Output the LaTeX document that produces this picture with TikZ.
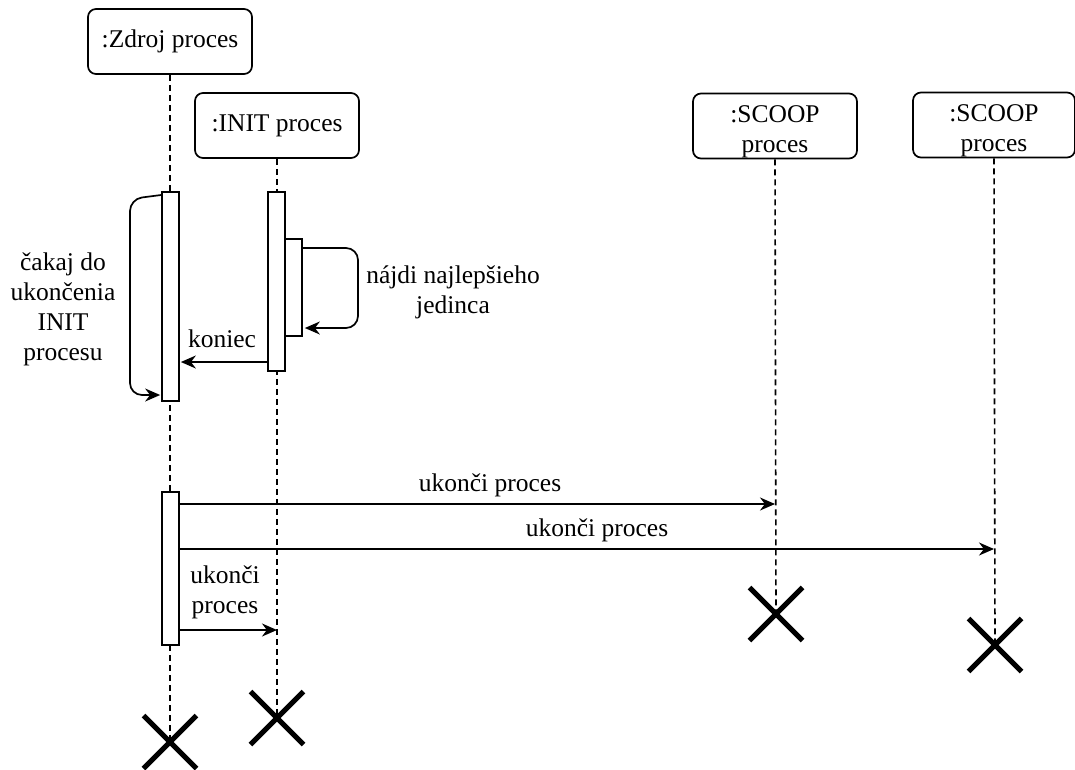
\documentclass[tikz,border=0pt]{standalone}
\usepackage{fontspec}
\setmainfont{Liberation Serif}
\usetikzlibrary{arrows.meta,shapes.misc}

\tikzset{
  head/.style={draw, rounded corners=8pt, line width=1.7pt, minimum width=164pt, minimum height=65pt, align=center, inner sep=0pt},
  act/.style={draw, fill=white, line width=1.7pt, minimum width=17pt, inner sep=0pt},
  life/.style={line width=1.6pt, dash pattern=on 6pt off 4pt},
  msg/.style={line width=1.7pt, -{Stealth[length=15pt,width=13pt]}},
  kill/.style={draw, cross out, line width=5pt, minimum size=48pt, inner sep=0pt},
  lbl/.style={align=center, inner sep=0pt}
}

\begin{document}
\begin{tikzpicture}[x=1pt, y=-1pt, font=\fontsize{25.5}{30}\selectfont]
		\useasboundingbox (0,0) rectangle (1075,769);
		% hlavicky
		\node[head] (zdroj) at (170,41.5) {:Zdroj proces};
		\node[head] (init) at (277,125.5) {:INIT proces};
		\node[head] (scoopa) at (775,126) {};
		\node[lbl] (scoopatext) at ([yshift=-6pt]scoopa.center) {:SCOOP\\proces};
		\node[head, minimum width=162pt] (scoopb) at (994,125) {};
		\node[lbl] (scoopbtext) at ([yshift=-6pt]scoopb.center) {:SCOOP\\proces};
		% konce
		\node[kill] (zdrojx) at (170,742) {};
		\node[kill] (initx) at (277,718) {};
		\node[kill] (scoopax) at (776,614) {};
		\node[kill] (scoopbx) at (995,645) {};
		% ciary zivota
		\draw[life] (zdroj.south) -- (zdrojx.center);
		\draw[life] (init.south) -- (initx.center);
		\draw[life] (scoopa.south) -- (scoopax.center);
		\draw[life] (scoopb.south) -- (scoopbx.center);
		% aktivacie
		\node[act, minimum height=209pt] (zdrojA) at (170.5,296.5) {};
		\node[act, minimum height=179pt] (initA) at (276.5,281.5) {};
		\node[act, minimum height=97pt] (initB) at (293.5,287.5) {};
		\node[act, minimum height=153pt] (zdrojB) at (170.5,568.5) {};
		% spravy
		\draw[msg, rounded corners=12pt] (zdrojA.west |- 0,195) -- (130,199) -- (130,395) -- ([xshift=-1pt]zdrojA.west |- 0,395);
		\node[lbl] (cakaj) at (63,309) {čakaj do\\ukončenia\\INIT\\procesu};
		\draw[msg, rounded corners=12pt] (initB.east |- 0,248) -- (358,248) -- (358,328) -- ([xshift=2pt]initB.east |- 0,328);
		\node[lbl] (najdi) at (453,292) {nájdi najlepšieho\\jedinca};
		\draw[msg] (initA.west |- 0,362) -- ([xshift=1pt]zdrojA.east |- 0,362);
		\node[lbl] (koniec) at (222,339) {koniec};
		\draw[msg] (zdrojB.east |- 0,504) -- (scoopa.south |- 0,504);
		\node[lbl] (ukoncia) at (490,485) {ukonči proces};
		\draw[msg] (zdrojB.east |- 0,549) -- (scoopb.south |- 0,549);
		\node[lbl] (ukoncib) at (597,530) {ukonči proces};
		\draw[msg] (zdrojB.east |- 0,630) -- (init.south |- 0,630);
		\node[lbl] (ukoncic) at (225,592) {ukonči\\proces};
\end{tikzpicture}
\end{document}
